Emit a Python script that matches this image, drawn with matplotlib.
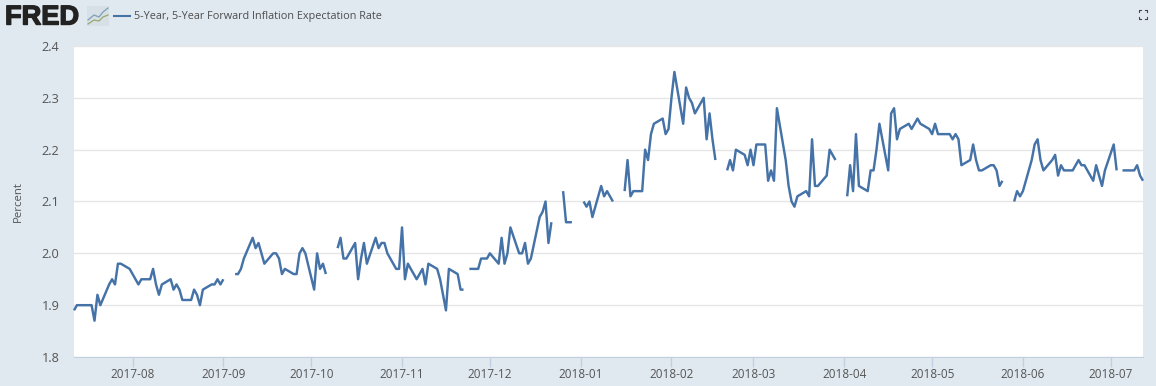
import numpy as np
import pandas as pd
import matplotlib
matplotlib.use("Agg")
import matplotlib.pyplot as plt
import matplotlib.patheffects as pe
from matplotlib.lines import Line2D
from matplotlib.patches import Rectangle

n = np.nan
jul17 = [1.89,1.90,1.90,1.90,1.90,1.87,1.92,1.90,1.94,1.95,1.94,1.98,1.98,1.97]
aug17 = [1.96,1.95,1.94,1.95,1.95,1.97,1.94,1.92,1.94,1.95,1.93,1.94,1.93,1.91,1.91,1.93,1.92,1.90,1.93,1.94,1.94,1.95,1.94]
sep17 = [1.95,n,1.96,1.96,1.97,1.99,2.03,2.01,2.02,2.00,1.98,2.00,2.00,1.99,1.96,1.97,1.96,1.96,2.00,2.01,2.00]
oct17 = [1.93,2.00,1.97,1.98,1.96,n,2.01,2.03,1.99,1.99,2.02,1.95,1.99,2.02,1.98,2.03,2.01,2.02,2.02,2.00,1.97,1.97]
nov17 = [2.05,1.95,1.98,1.95,1.96,1.97,1.94,1.98,1.97,1.95,1.92,1.89,1.97,1.96,1.93,1.93,n,1.97,1.97,1.99,1.99,1.99]
dec17 = [2.00,1.98,2.03,1.98,2.00,2.05,2.00,2.00,2.02,1.98,1.99,2.07,2.08,2.10,2.02,2.06,n,2.12,2.06,2.06,2.06]
jan18 = [n,2.10,2.09,2.10,2.07,2.13,2.11,2.12,2.11,2.10,n,2.12,2.18,2.11,2.12,2.12,2.20,2.18,2.23,2.25,2.26,2.23,2.24]
feb18 = [2.30,2.35,2.25,2.32,2.30,2.29,2.27,2.30,2.22,2.27,2.22,2.18,n,2.16,2.18,2.16,2.20,2.19,2.17,2.20]
mar18 = [2.17,2.21,2.21,2.14,2.16,2.14,2.28,2.18,2.13,2.10,2.09,2.11,2.12,2.11,2.22,2.13,2.13,2.15,2.20,2.19,2.18,n]
apr18 = [2.11,2.17,2.12,2.23,2.13,2.12,2.16,2.16,2.20,2.25,2.16,2.27,2.28,2.22,2.24,2.25,2.24,2.25,2.26,2.25,2.24]
may18 = [2.23,2.25,2.23,2.23,2.23,2.22,2.23,2.22,2.17,2.18,2.21,2.18,2.16,2.16,2.17,2.17,2.16,2.13,2.14,n,2.10,2.12,2.11]
jun18 = [2.12,2.18,2.21,2.22,2.18,2.16,2.18,2.19,2.15,2.17,2.16,2.16,2.17,2.18,2.17,2.17,2.14,2.17,2.15,2.13,2.16]
jul18 = [2.21,2.16,n,2.16,2.16,2.16,2.17,2.15,2.14]

values = jul17+aug17+sep17+oct17+nov17+dec17+jan18+feb18+mar18+apr18+may18+jun18+jul18
dates = pd.bdate_range("2017-07-12", "2018-07-12")
month_ticks = pd.date_range("2017-08-01", "2018-07-01", freq="MS")
tick_labels = [d.strftime("%Y-%m") for d in month_ticks]
y_ticks = [1.8, 1.9, 2.0, 2.1, 2.2, 2.3, 2.4]
series_name = "5-Year, 5-Year Forward Inflation Expectation Rate"

W, H = 1156, 386
BG = "#e1e9f0"
LINE = "#4572a7"
TXT = "#555555"
plt.rcParams["font.family"] = ["Open Sans", "DejaVu Sans"]

fig = plt.figure(figsize=(W/100, H/100), dpi=100, facecolor=BG)
ax = fig.add_axes([74/W, 1-357/H, (1143-74)/W, (357-46)/H])
ax.plot(dates, values, color=LINE, lw=1.75, solid_joinstyle="round", solid_capstyle="butt", clip_on=False)
ax.set_xlim(pd.Timestamp("2017-07-12"), pd.Timestamp("2018-07-12"))
ax.set_ylim(1.8, 2.4)
ax.set_yticks(y_ticks)
ax.set_yticklabels([f"{v:.1f}" for v in y_ticks], fontsize=9.2, color=TXT)
ax.set_xticks(month_ticks)
ax.set_xticklabels(tick_labels, fontsize=8.5, color=TXT)
ax.set_ylabel("Percent", fontsize=8.2, color=TXT, labelpad=12.8)
ax.grid(axis="y", color="#e6e6e6", lw=1)
ax.set_axisbelow(True)
ax.tick_params(axis="y", length=0, pad=10.5)
ax.tick_params(axis="x", length=7, width=1, color="#c0d0e0", pad=1)
for s in ["top", "left", "right"]:
    ax.spines[s].set_visible(False)
ax.spines["bottom"].set_color("#c0d0e0")

# header
fig.text(5/W, 1-17.5/H, "FRED", fontsize=19.6, fontweight="bold", color="#222222",
         family="Liberation Sans", va="center", ha="left",
         path_effects=[pe.withStroke(linewidth=1.0, foreground="#222222")])
fig.add_artist(Rectangle((87/W, 1-26/H), 22/W, 20/H, transform=fig.transFigure,
                         facecolor="#d6e0e6", edgecolor="none"))
fig.add_artist(Line2D(np.array([88,94,99,103,108])/W, 1-np.array([20,15,17,12,8])/H,
                      color="#7f9fb5", lw=0.9))
fig.add_artist(Line2D(np.array([88,94,99,103,108])/W, 1-np.array([24,20,21,17,15])/H,
                      color="#9aa86a", lw=0.9))
fig.add_artist(Line2D([114/W, 130/W], [1-16/H, 1-16/H], color=LINE, lw=1.5))
fig.text(134/W, 1-17/H, series_name, fontsize=7.85, color="#4d4d4d", va="center", ha="left")

# full-screen icon
for cx, cy, dx, dy in [(1139,10,1,1),(1147,10,-1,1),(1139,19,1,-1),(1147,19,-1,-1)]:
    fig.add_artist(Line2D([(cx+2*dx)/W, cx/W, cx/W],
                          [1-cy/H, 1-cy/H, 1-(cy+2*dy)/H], color="#444444", lw=0.8))

fig.savefig("out.png", dpi=100, facecolor=BG)
